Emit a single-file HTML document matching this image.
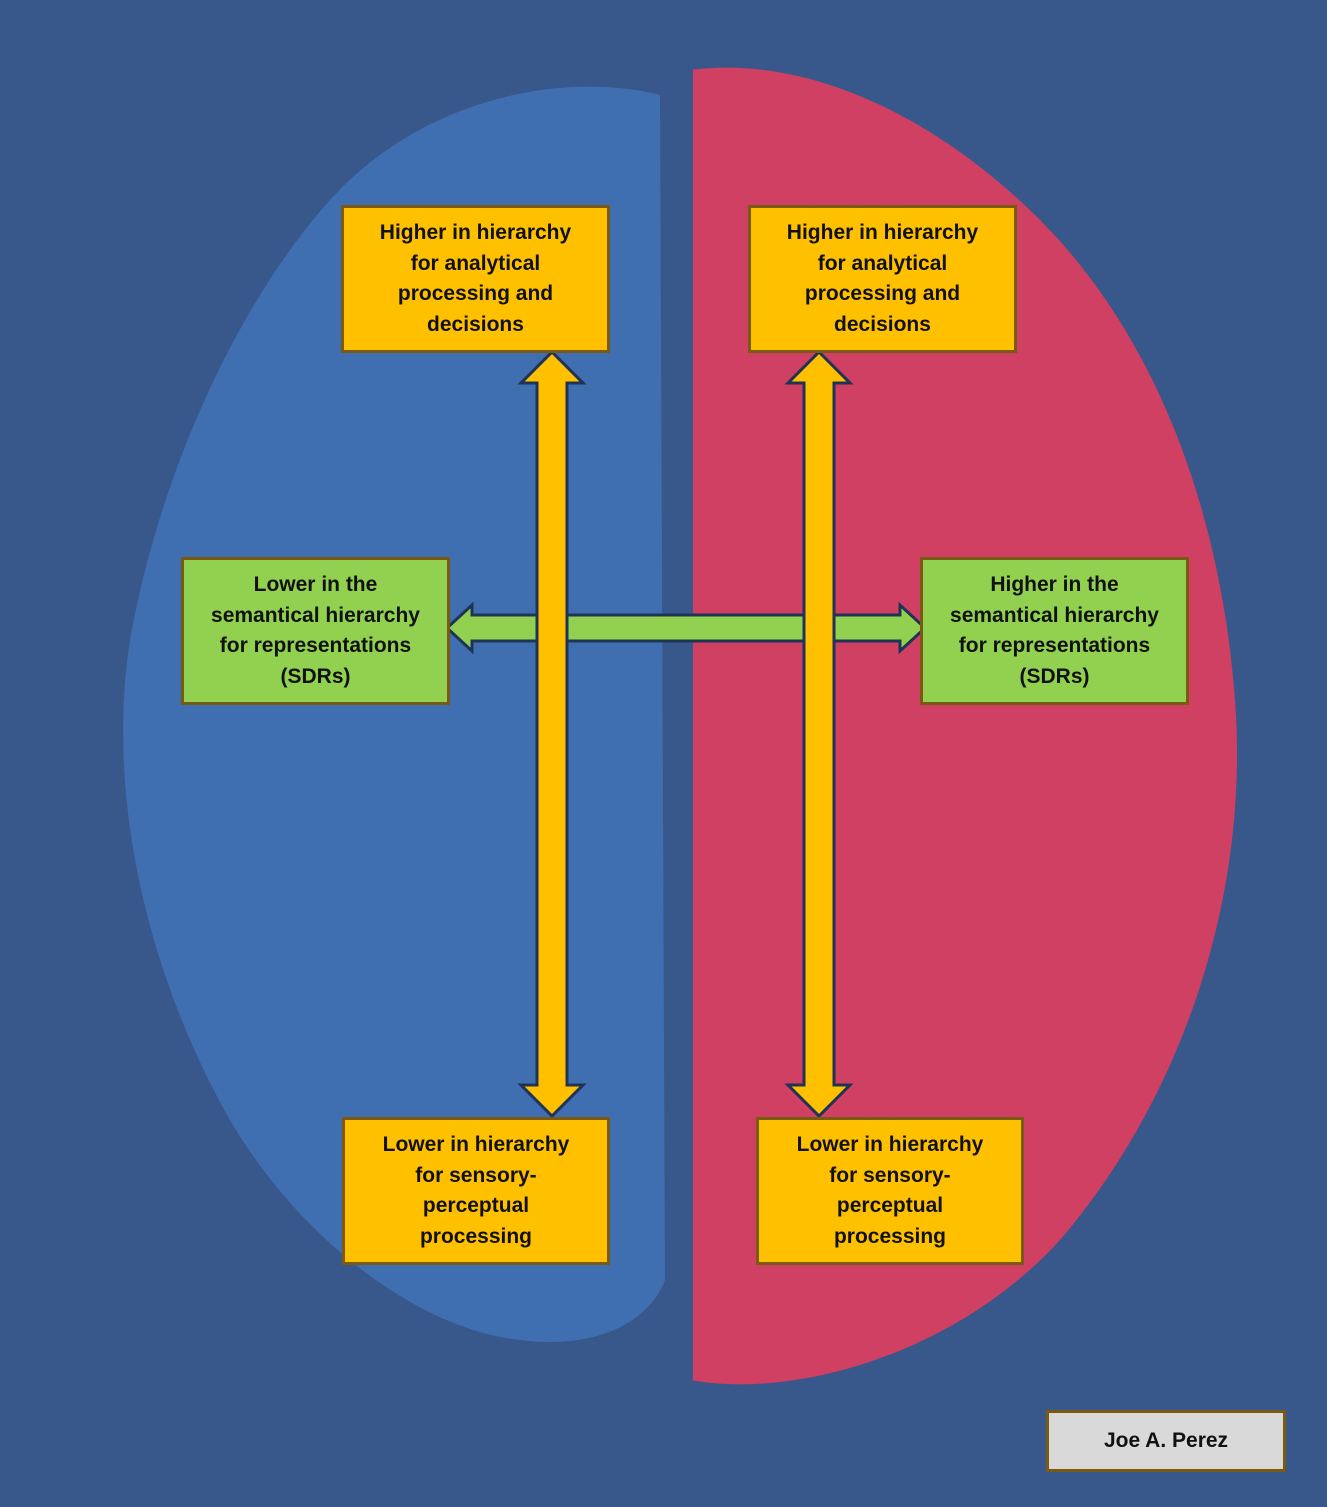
<!DOCTYPE html>
<html><head><meta charset="utf-8"><style>
html,body{margin:0;padding:0}
body{width:1327px;height:1507px;background:#38578a;position:relative;overflow:hidden;font-family:"Liberation Sans",sans-serif}
.b{position:absolute;box-sizing:border-box;border:3px solid #7a5a12;display:flex;align-items:center;justify-content:center;text-align:center;font-weight:bold;font-size:21px;line-height:30.5px;color:#111}
.y{background:#ffc000}.g{background:#92d050}
svg{position:absolute;left:0;top:0}
</style></head><body>
<svg width="1327" height="1507">
<path d="M660,95 C560,70 420,100 330,200 C240,300 160,470 130,640 C105,800 150,980 230,1120 C300,1240 420,1330 520,1340 C600,1350 650,1320 665,1280 Z" fill="#3f6fb1"/>
<path d="M690,70 C800,55 930,110 1040,220 C1150,330 1220,500 1235,700 C1250,900 1180,1100 1060,1240 C960,1350 800,1400 690,1380 Z" fill="#dc3e5e" opacity="0.92"/>
<path d="M690,70 L690,1380" stroke="#38578a" stroke-width="6"/>
<polygon points="567,641 567,615 449,615" fill="none"/>
<polygon points="447,628 472,605 472,615 900,615 900,605 925,628 900,651 900,641 472,641 472,651" fill="#92d050" stroke="#1f3357" stroke-width="3"/>
<polygon points="552,352 583,383 567,383 567,1085 583,1085 552,1116 521,1085 537,1085 537,383 521,383" fill="#ffc000" stroke="#1f3357" stroke-width="3"/>
<polygon points="819,352 850,383 834,383 834,1085 850,1085 819,1116 788,1085 804,1085 804,383 788,383" fill="#ffc000" stroke="#1f3357" stroke-width="3"/>
</svg>
<div class="b y" style="left:341px;top:205px;width:269px;height:148px">Higher in hierarchy<br>for analytical<br>processing and<br>decisions</div>
<div class="b y" style="left:748px;top:205px;width:269px;height:148px">Higher in hierarchy<br>for analytical<br>processing and<br>decisions</div>
<div class="b g" style="left:181px;top:557px;width:269px;height:148px">Lower in the<br>semantical hierarchy<br>for representations<br>(SDRs)</div>
<div class="b g" style="left:920px;top:557px;width:269px;height:148px">Higher in the<br>semantical hierarchy<br>for representations<br>(SDRs)</div>
<div class="b y" style="left:342px;top:1117px;width:268px;height:148px">Lower in hierarchy<br>for sensory-<br>perceptual<br>processing</div>
<div class="b y" style="left:756px;top:1117px;width:268px;height:148px">Lower in hierarchy<br>for sensory-<br>perceptual<br>processing</div>
<div class="b" style="left:1046px;top:1410px;width:240px;height:62px;background:#d9d9d9">Joe A. Perez</div>
</body></html>
